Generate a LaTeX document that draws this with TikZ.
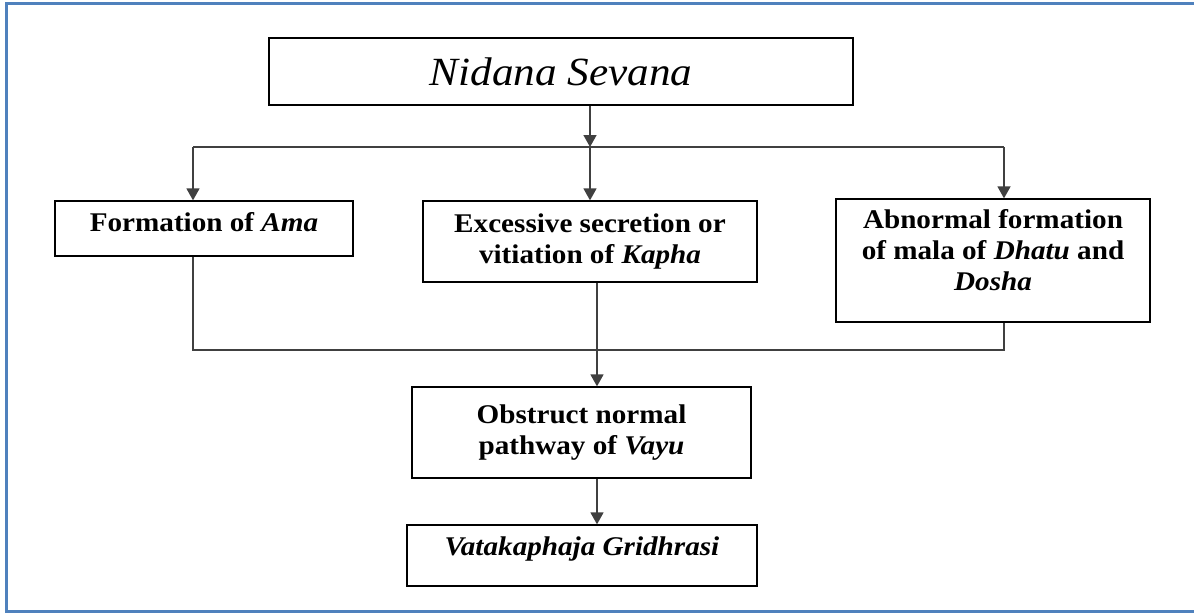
\documentclass[tikz,border=0pt]{standalone}
\usepackage{fontspec}
\setmainfont{Liberation Serif}[FakeStretch=1.08]
\usetikzlibrary{arrows.meta}
\definecolor{frameblue}{RGB}{79,129,189}
\tikzset{
  box/.style={draw=black, line width=1.3pt, rectangle, inner sep=2pt, align=center,
    font=\fontsize{27}{31}\selectfont\bfseries},
  conn/.style={draw=black!75, line width=1.6pt},
  arr/.style={conn, -{Triangle[width=13pt,length=12pt]}},
}
\begin{document}
\begin{tikzpicture}[x=1pt,y=-1pt]
\useasboundingbox (0,0) rectangle (1194,613);
\draw[frameblue, line width=3pt] (1194,3) -- (6.5,3) -- (6.5,611.5) -- (1194,611.5);

\node[box, minimum width=584pt, minimum height=67pt, font=\fontsize{40}{44}\selectfont\itshape] (top) at (561,71.5) {Nidana Sevana};
\node[box, minimum width=298pt, minimum height=55pt, text depth=14pt] (ama) at (204,228.5) {Formation of \textit{Ama}};
\node[box, minimum width=334pt, minimum height=81pt] (kapha) at (590,241.5) {Excessive secretion or\\vitiation of \textit{Kapha}};
\node[box, minimum width=314pt, minimum height=123pt] (dhatu) at (993,260.5) {Abnormal formation\\of mala of \textit{Dhatu} and\\\textit{Dosha}\\[-10pt]};
\node[box, minimum width=339pt, minimum height=91pt] (obs) at (581.5,432.5) {Obstruct normal\\pathway of \textit{Vayu}};
\node[box, minimum width=350pt, minimum height=61pt, text depth=18pt] (vata) at (582,555.5) {\textit{Vatakaphaja Gridhrasi}};

\coordinate (split) at (590,147);
\coordinate (hl) at (193,147);
\coordinate (hr) at (1004,147);
\coordinate (bl) at (193,350);
\coordinate (br) at (1004,350);

\draw[arr] (top.south -| split) -- (split);
\draw[arr] (split) -- (kapha.north -| split);
\draw[conn] (hl) -- (hr);
\draw[arr] (hl) -- (ama.north -| hl);
\draw[arr] (hr) -- (dhatu.north -| hr);
\draw[conn] (ama.south -| bl) -- (bl) -- (br) -- (dhatu.south -| br);
\draw[arr] (kapha.south -| 597,0) -- (obs.north -| 597,0);
\draw[arr] (obs.south -| 597,0) -- (vata.north -| 597,0);
\end{tikzpicture}
\end{document}
